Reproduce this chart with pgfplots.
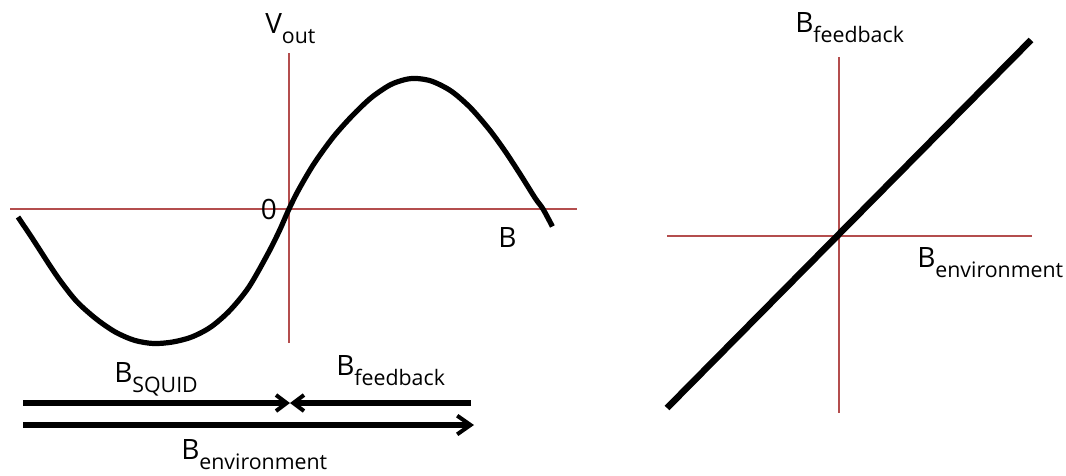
\documentclass[border=0pt]{standalone}
\usepackage{pgfplots}
\pgfplotsset{compat=1.18}
\usetikzlibrary{arrows.meta}
\usepackage{fontspec}
\setmainfont{Open Sans}
\definecolor{axred}{RGB}{180,78,78}
\newcommand{\lbl}[2]{{\fontsize{21}{21}\selectfont #1}{\fontsize{16}{16}\selectfont\raisebox{-8pt}{#2}}}
\begin{document}
\begin{tikzpicture}
\begin{axis}[
  scale only axis, width=799.5pt, height=356.25pt,
  xmin=0, xmax=1066, ymin=0, ymax=475, y dir=reverse,
  hide axis, clip=false,
]
% left panel axes
\addplot[axred, line width=1.1pt] coordinates {(289,53) (289,343)};
\addplot[axred, line width=1.1pt] coordinates {(10,209) (577,209)};
% left curve V_out(B)
\addplot[black, line width=3.9pt, smooth] coordinates {
(18,217) (31.4,237) (39,248.7) (50.5,266.5) (61.9,283) (77.2,302) (96.3,319)
(115.3,332) (134.4,340.3) (153.5,343.5) (172.6,342) (191.7,337) (210.8,327)
(229.8,310.5) (248.9,287) (268,253.5) (279.5,230.5) (289,209) (298.5,190)
(313.8,164) (332.9,137.5) (352,116) (371.1,97.8) (390.1,84.9) (405.4,79.5)
(416.9,78.5) (432.1,81.3) (451.2,91.1) (470.3,107.6) (489.4,129.7) (504.6,150.5)
(519.9,173.8) (535.2,198.2) (543,209) (552.4,226.5)};
% arrows below
\addplot[black, line width=3.8pt, -{Straight Barb[length=8pt,width=12pt,line width=3pt]}] coordinates {(23,403) (290,403)};
\addplot[black, line width=3.8pt, -{Straight Barb[length=8pt,width=12pt,line width=3pt]}] coordinates {(471,403) (290,403)};
\addplot[black, line width=3.8pt, -{Straight Barb[length=10pt,width=14pt,line width=3pt]}] coordinates {(23,425) (474,425)};
% right panel
\addplot[axred, line width=1.1pt] coordinates {(839,57) (839,413)};
\addplot[axred, line width=1.1pt] coordinates {(667,236) (1032,236)};
\addplot[black, line width=4.9pt] coordinates {(667,408) (1031,40)};
% labels
\node[anchor=base west, inner sep=0pt] at (axis cs:265,33) {\lbl{V}{out}};
\node[anchor=center, inner sep=0pt] at (axis cs:269,209) {\fontsize{21}{21}\selectfont 0};
\node[anchor=base west, inner sep=0pt] at (axis cs:498,247) {\fontsize{21}{21}\selectfont B};
\node[anchor=base west, inner sep=0pt] at (axis cs:114,382) {\lbl{B}{SQUID}};
\node[anchor=base west, inner sep=0pt] at (axis cs:336,375) {\lbl{B}{feedback}};
\node[anchor=base west, inner sep=0pt] at (axis cs:181,459) {\lbl{B}{environment}};
\node[anchor=base west, inner sep=0pt] at (axis cs:795,32) {\lbl{B}{feedback}};
\node[anchor=base west, inner sep=0pt] at (axis cs:917,267) {\lbl{B}{environment}};
\end{axis}
\useasboundingbox (current axis.south west) rectangle (current axis.north east);
\end{tikzpicture}
\end{document}
